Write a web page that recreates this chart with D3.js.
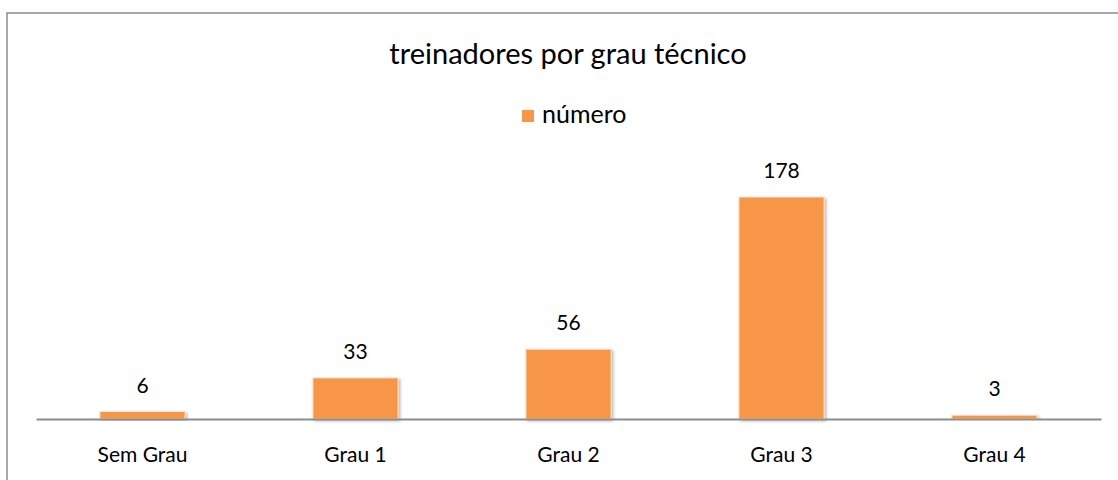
<!DOCTYPE html>
<html>
<head>
<meta charset="utf-8">
<script src="https://cdn.jsdelivr.net/npm/d3@7"></script>
<style>
    body { margin: 0; background: #fff; }
    svg text { font-family: Lato, "Noto Sans", sans-serif; fill: #000; }
</style>
</head>
<body>
<div id="chart"></div>
<script>
// chart data
const categories = ["Sem Grau", "Grau 1", "Grau 2", "Grau 3", "Grau 4"];
const values = [6, 33, 56, 178, 3];
const seriesName = "número";
const chartTitle = "treinadores por grau técnico";

const width = 1118, height = 480;
const plot = { left: 36, right: 1101, top: 197, bottom: 419 };

const svg = d3.select("#chart").append("svg")
    .attr("width", width)
    .attr("height", height);

// soft shadow for the bars
const defs = svg.append("defs");
const shadow = defs.append("filter")
    .attr("id", "barShadow")
    .attr("x", "-10%").attr("y", "-10%")
    .attr("width", "130%").attr("height", "130%");
shadow.append("feDropShadow")
    .attr("dx", 1.5).attr("dy", 1.5)
    .attr("stdDeviation", 1.5)
    .attr("flood-color", "#000")
    .attr("flood-opacity", 0.3);

// outer frame (runs off the right and bottom edges)
svg.append("rect")
    .attr("x", 7).attr("y", 13)
    .attr("width", 1200).attr("height", 600)
    .attr("fill", "none")
    .attr("stroke", "#8c8c8c")
    .attr("stroke-width", 1.5);

// title
svg.append("text")
    .attr("x", 568).attr("y", 64)
    .attr("text-anchor", "middle")
    .style("font-size", "29px")
    .text(chartTitle);

// legend
const legend = svg.append("g").attr("transform", "translate(522,110)");
legend.append("rect")
    .attr("width", 12).attr("height", 12)
    .attr("fill", "#F79646");
legend.append("text")
    .attr("x", 20).attr("y", 13)
    .style("font-size", "25px")
    .text(seriesName);

// scales
const x = d3.scaleBand()
    .domain(categories)
    .range([plot.left, plot.right])
    .paddingInner(0.6)
    .paddingOuter(0.3);

const y = d3.scaleLinear()
    .domain([0, 178])
    .range([plot.bottom, plot.top]);

// bars
svg.selectAll(".bar")
    .data(values)
    .enter().append("rect")
    .attr("class", "bar")
    .attr("x", (d, i) => x(categories[i]))
    .attr("y", d => y(d))
    .attr("width", x.bandwidth())
    .attr("height", d => plot.bottom - y(d))
    .attr("fill", "#F79646")
    .attr("stroke", "#fde3cc")
    .attr("stroke-width", 1)
    .attr("filter", "url(#barShadow)");

// x axis line
const xAxis = d3.axisBottom(x).tickSize(0).tickPadding(28);
const axisG = svg.append("g")
    .attr("transform", `translate(0,${plot.bottom})`)
    .call(xAxis);
axisG.select(".domain")
    .attr("stroke", "#8c8c8c")
    .attr("stroke-width", 2);
axisG.selectAll("text")
    .style("font-family", "Lato, 'Noto Sans', sans-serif")
    .style("font-size", "21px")
    .attr("fill", "#000");

// value labels
svg.selectAll(".value-label")
    .data(values)
    .enter().append("text")
    .attr("class", "value-label")
    .attr("x", (d, i) => x(categories[i]) + x.bandwidth() / 2)
    .attr("y", d => y(d) - 19)
    .attr("text-anchor", "middle")
    .style("font-size", "21px")
    .text(d => d);
</script>
</body>
</html>
